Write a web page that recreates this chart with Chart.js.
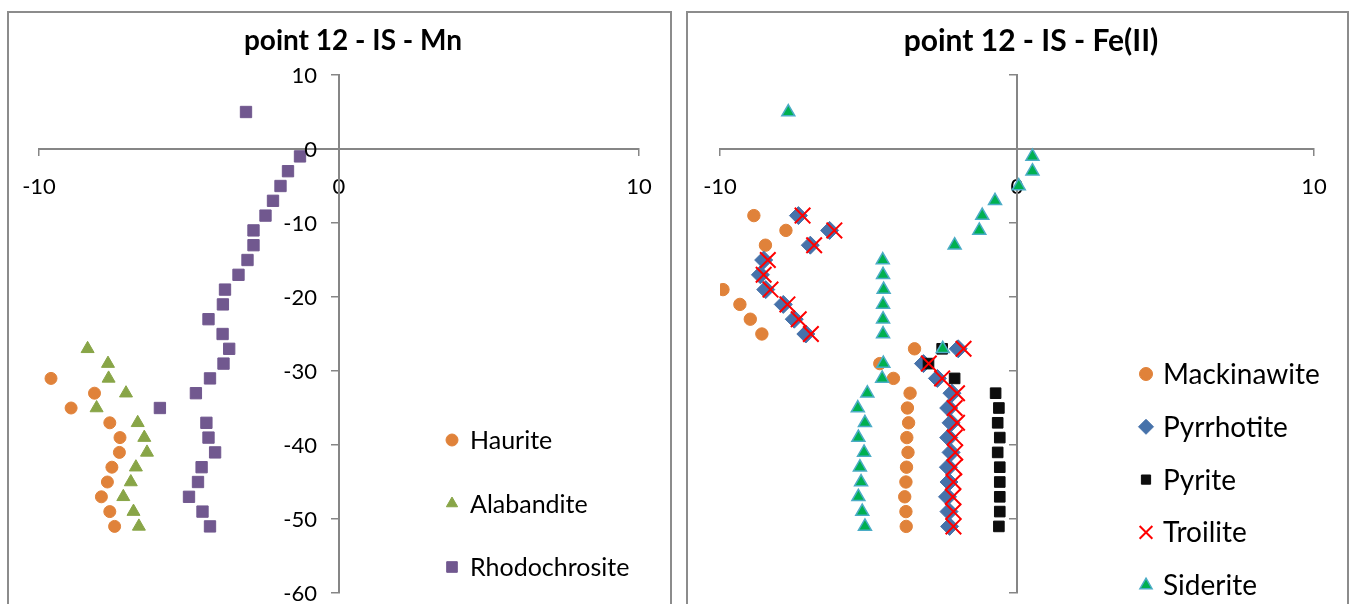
<!DOCTYPE html>
<html>
<head>
<meta charset="utf-8">
<script src="https://cdn.jsdelivr.net/npm/chart.js@4/dist/chart.umd.js"></script>
<style>
  html, body { margin: 0; padding: 0; background: #fff; overflow: hidden; }
  body { width: 1350px; height: 604px; position: relative; }
  .frame { position: absolute; top: 11px; height: 640px; border: 2px solid #8c8c8c; box-sizing: border-box; }
  canvas { position: absolute; top: 13px; }
</style>
</head>
<body>
<div class="frame" style="left:7px;width:665px"></div>
<div class="frame" style="left:686px;width:663px"></div>
<canvas id="mnChart" width="662" height="600" style="left:8px"></canvas>
<canvas id="feChart" width="659" height="600" style="left:688px"></canvas>
<script>
// depths (y) and saturation index (x) per mineral

// Mn panel
const rhodoDepth = [5, -1, -3, -5, -7, -9, -11, -13, -15, -17, -19, -21, -23, -25, -27, -29, -31, -33, -35, -37, -39, -41, -43, -45, -47, -49, -51];
const rhodoSI = [-3.1, -1.3, -1.7, -1.95, -2.2, -2.45, -2.85, -2.85, -3.05, -3.35, -3.8, -3.87, -4.35, -3.88, -3.66, -3.85, -4.3, -4.77, -5.97, -4.42, -4.35, -4.13, -4.58, -4.7, -5.0, -4.55, -4.3];
const hauriteDepth = [-31, -33, -35, -37, -39, -41, -43, -45, -47, -49, -51];
const hauriteSI = [-9.6, -8.15, -8.93, -7.64, -7.3, -7.32, -7.57, -7.72, -7.92, -7.64, -7.48];
const alabDepth = [-27, -29, -31, -33, -35, -37, -39, -41, -43, -45, -47, -49, -51];
const alabSI = [-8.38, -7.7, -7.68, -7.1, -8.08, -6.71, -6.49, -6.4, -6.77, -6.94, -7.19, -6.85, -6.67];

// Fe(II) panel
const mackDepth = [-9, -11, -13, -19, -21, -23, -25, -27, -29, -31, -33, -35, -37, -39, -41, -43, -45, -47, -49, -51];
const mackSI = [-8.86, -7.78, -8.47, -9.9, -9.33, -8.98, -8.59, -3.45, -4.62, -4.16, -3.6, -3.69, -3.65, -3.71, -3.67, -3.72, -3.74, -3.78, -3.74, -3.73];
const pyrrDepth = [-9, -11, -13, -15, -17, -19, -21, -23, -25, -27, -29, -31, -33, -35, -37, -39, -41, -43, -45, -47, -49, -51];
const pyrrSI = [-7.36, -6.31, -6.96, -8.53, -8.64, -8.46, -7.87, -7.5, -7.11, -1.98, -3.15, -2.68, -2.19, -2.3, -2.22, -2.3, -2.22, -2.31, -2.29, -2.34, -2.29, -2.27];
const pyriteDepth = [-27, -29, -31, -33, -35, -37, -39, -41, -43, -45, -47, -49, -51];
const pyriteSI = [-2.52, -2.98, -2.1, -0.72, -0.61, -0.65, -0.58, -0.65, -0.58, -0.58, -0.58, -0.58, -0.61];
const troiliteDepth = [-9, -11, -13, -15, -17, -19, -21, -23, -25, -27, -29, -31, -33, -35, -37, -39, -41, -43, -45, -47, -49, -51];
const troiliteSI = [-7.22, -6.15, -6.83, -8.39, -8.53, -8.3, -7.73, -7.35, -6.94, -1.8, -2.97, -2.52, -2.02, -2.1, -2.02, -2.1, -2.08, -2.11, -2.14, -2.16, -2.14, -2.14];
const sideriteDepth = [5, -1, -3, -5, -7, -9, -11, -13, -15, -17, -19, -21, -23, -25, -27, -29, -31, -33, -35, -37, -39, -41, -43, -45, -47, -49, -51];
const sideriteSI = [-7.7, 0.52, 0.52, 0.06, -0.74, -1.17, -1.27, -2.1, -4.52, -4.51, -4.49, -4.51, -4.51, -4.51, -2.5, -4.5, -4.54, -5.04, -5.36, -5.12, -5.34, -5.15, -5.29, -5.25, -5.34, -5.21, -5.12];

const xTicks = [-10, 0, 10];
const yTicks = [10, 0, -10, -20, -30, -40, -50, -60];

const FONT = 'Lato, "Liberation Sans", sans-serif';
const AXIS_GREY = '#868686';

function pts(xs, ys) {
  return xs.map((x, i) => ({ x: x, y: ys[i] }));
}

function series(label, xs, ys, style, fill, stroke, radius, bw, order) {
  return {
    label: label,
    data: pts(xs, ys),
    pointStyle: style,
    backgroundColor: fill,
    borderColor: stroke,
    pointRadius: radius,
    pointBorderWidth: bw,
    borderWidth: bw,
    showLine: false,
    order: order
  };
}

function axes(tickSize) {
  return {
    x: {
      type: 'linear',
      min: xTicks[0],
      max: xTicks[xTicks.length - 1],
      position: { y: 0 },
      afterBuildTicks: (s) => { s.ticks = xTicks.map(v => ({ value: v })); },
      // plot box comes from layout.padding only, not from label overhang
      afterFit: (s) => { s.paddingLeft = 0; s.paddingRight = 0; },
      ticks: { padding: 19, color: '#000', font: { family: FONT, size: tickSize } },
      grid: { drawOnChartArea: false, drawTicks: true, tickLength: 6, color: AXIS_GREY, lineWidth: 1.5 },
      border: { display: true, color: AXIS_GREY, width: 2 }
    },
    y: {
      type: 'linear',
      min: yTicks[yTicks.length - 1],
      max: yTicks[0],
      position: { x: 0 },
      afterBuildTicks: (s) => { s.ticks = yTicks.map(v => ({ value: v })); },
      afterFit: (s) => { s.paddingTop = 0; s.paddingBottom = 0; },
      // y labels are painted by panelText so they sit clear of the axis line
      ticks: { color: '#000', font: { family: FONT, size: tickSize }, callback: () => '' },
      grid: { drawOnChartArea: false, drawTicks: true, tickLength: 7, color: AXIS_GREY, lineWidth: 1.5 },
      border: { display: true, color: AXIS_GREY, width: 2 }
    }
  };
}

// title, y tick labels and legend, painted inside the frame
const panelText = {
  id: 'panelText',
  afterDraw(chart, args, opts) {
    const ctx = chart.ctx;
    ctx.save();
    ctx.fillStyle = '#000';
    ctx.textAlign = 'center';
    ctx.textBaseline = 'middle';
    ctx.font = 'bold ' + opts.titleSize + 'px ' + FONT;
    ctx.fillText(opts.title, opts.titleX, opts.titleY);

    if (opts.yLabels) {
      const xs = chart.scales.x, ys = chart.scales.y;
      const axisX = xs.getPixelForValue(0);
      ctx.textAlign = 'right';
      ctx.font = opts.tickSize + 'px ' + FONT;
      yTicks.forEach(v => {
        ctx.fillText(String(v), axisX - 22, ys.getPixelForValue(v) + 1);
      });
    }

    ctx.textAlign = 'left';
    ctx.font = opts.legendSize + 'px ' + FONT;
    chart.data.datasets.forEach((ds, i) => {
      const y = opts.legendTop + i * opts.legendStep;
      ctx.fillStyle = ds.backgroundColor;
      ctx.strokeStyle = ds.borderColor;
      ctx.lineWidth = ds.pointBorderWidth;
      Chart.helpers.drawPoint(ctx, { pointStyle: ds.pointStyle, radius: opts.markerSize[i], borderWidth: ds.pointBorderWidth, rotation: 0 }, opts.markerX, y);
      ctx.fillStyle = '#000';
      ctx.fillText(ds.label, opts.textX, y + 1);
    });
    ctx.restore();
  }
};

function makeChart(id, datasets, pad, text) {
  return new Chart(document.getElementById(id), {
    type: 'scatter',
    data: { datasets: datasets },
    options: {
      responsive: false,
      animation: false,
      events: [],
      layout: { padding: pad },
      scales: axes(text.tickSize),
      plugins: {
        legend: { display: false },
        title: { display: false },
        tooltip: { enabled: false },
        panelText: text
      }
    },
    plugins: [panelText]
  });
}

makeChart('mnChart', [
  series('Haurite', hauriteSI, hauriteDepth, 'circle', '#E0823A', '#E0823A', 6, 1, 3),
  series('Alabandite', alabSI, alabDepth, 'triangle', '#88A547', '#88A547', 7.5, 1, 2),
  series('Rhodochrosite', rhodoSI, rhodoDepth, 'rect', '#71588F', '#71588F', 8, 1, 1)
], { left: 31, right: 31, top: 62, bottom: 20 }, {
  title: 'point 12 - IS - Mn', titleX: 345, titleY: 28, titleSize: 28,
  yLabels: true, tickSize: 22,
  legendTop: 427, legendStep: 63.5, markerX: 444, textX: 462, legendSize: 25,
  markerSize: [6, 6.5, 7.5]
});

makeChart('feChart', [
  series('Mackinawite', mackSI, mackDepth, 'circle', '#E0823A', '#E0823A', 6.2, 1, 5),
  series('Pyrrhotite', pyrrSI, pyrrDepth, 'rectRot', '#4672AA', '#4672AA', 9, 1, 4),
  series('Pyrite', pyriteSI, pyriteDepth, 'rect', '#0D0D0D', '#0D0D0D', 7.5, 1, 3),
  series('Troilite', troiliteSI, troiliteDepth, 'crossRot', '#FF0000', '#FF0000', 11, 2, 2),
  series('Siderite', sideriteSI, sideriteDepth, 'triangle', '#00B050', '#4BACC6', 7.5, 1.5, 1)
], { left: 32, right: 33, top: 62, bottom: 20 }, {
  title: 'point 12 - IS - Fe(II)', titleX: 343, titleY: 28, titleSize: 30,
  yLabels: false, tickSize: 22,
  legendTop: 361, legendStep: 52.8, markerX: 458, textX: 475, legendSize: 28,
  markerSize: [6.5, 7.5, 6.5, 9, 7]
});
</script>
</body>
</html>
